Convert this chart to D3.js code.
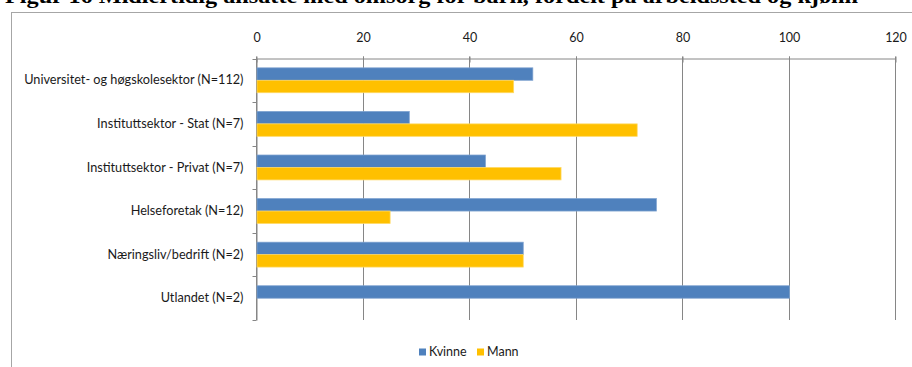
<!DOCTYPE html>
<html>
<head>
<meta charset="utf-8">
<script src="https://cdn.jsdelivr.net/npm/d3@7"></script>
<style>
  html, body { margin: 0; padding: 0; background: #fff; }
  svg { display: block; }
</style>
</head>
<body>
<svg id="chart" width="912" height="367"></svg>
<script>
// Data: share (%) of temporary employees with children, by workplace and gender
const categories = [
  "Universitet- og høgskolesektor (N=112)",
  "Instituttsektor - Stat (N=7)",
  "Instituttsektor - Privat (N=7)",
  "Helseforetak (N=12)",
  "Næringsliv/bedrift (N=2)",
  "Utlandet (N=2)"
];
const seriesNames = ["Kvinne", "Mann"];
const kvinne = [51.8, 28.6, 42.9, 75, 50, 100];
const mann   = [48.2, 71.4, 57.1, 25, 50, 0];
const tickValues = [0, 20, 40, 60, 80, 100, 120];
const title = "Figur 16 Midlertidig ansatte med omsorg for barn, fordelt på arbeidssted og kjønn";

const colors = { Kvinne: "#4F81BD", Mann: "#FFC000" };
const strokes = { Kvinne: "#7EA2D0", Mann: "#FFD966" };
const series = [kvinne, mann];

const svg = d3.select("#chart");
const font = "Lato, 'Liberation Sans', sans-serif";

// Title (page heading above the chart frame)
svg.append("text")
  .attr("x", 5).attr("y", 3)
  .attr("font-family", "'Liberation Serif', 'Times New Roman', serif")
  .attr("font-weight", "bold")
  .attr("font-size", 20)
  .attr("textLength", 853)
  .attr("lengthAdjust", "spacingAndGlyphs")
  .attr("fill", "#000")
  .text(title);

// Chart area frame
svg.append("rect")
  .attr("x", 11.5).attr("y", 12.5)
  .attr("width", 1000).attr("height", 400)
  .attr("fill", "#fff")
  .attr("stroke", "#A6A6A6")
  .attr("stroke-width", 1);

const plot = { left: 256, right: 895, top: 58.5, bottom: 320 };

const x = d3.scaleLinear().domain([0, 120]).range([plot.left, plot.right]);
const y = d3.scaleBand().domain(categories).range([plot.top, plot.bottom]).paddingInner(0).paddingOuter(0);
const groupW = y.bandwidth() / 1.75;           // 75% gap between groups
const y1 = d3.scaleBand().domain(seriesNames).range([0, groupW]);

const gridColor = "#868686";

// Vertical gridlines
svg.append("g")
  .selectAll("line")
  .data(tickValues)
  .join("line")
  .attr("x1", d => Math.round(x(d)) + 0.5)
  .attr("x2", d => Math.round(x(d)) + 0.5)
  .attr("y1", plot.top - 2)
  .attr("y2", plot.bottom)
  .attr("stroke", gridColor)
  .attr("stroke-width", 1);

// Top value axis
const xAxis = svg.append("g")
  .attr("transform", `translate(0.5,${plot.top})`)
  .call(d3.axisTop(x).tickValues(tickValues).tickSizeInner(2).tickSizeOuter(0).tickPadding(15));
xAxis.select(".domain").attr("stroke", gridColor);
xAxis.selectAll(".tick line").attr("stroke", gridColor).attr("y2", 4).attr("y1", -2);
xAxis.selectAll(".tick text")
  .attr("font-family", font).attr("font-size", 12.5).attr("fill", "#1a1a1a");

// Category axis
const yAxis = svg.append("g")
  .attr("transform", `translate(${plot.left + 0.5},0)`)
  .call(d3.axisLeft(y).tickSize(0).tickPadding(13));
yAxis.select(".domain").attr("stroke", gridColor);
yAxis.selectAll(".tick text")
  .attr("font-family", font).attr("font-size", 12.7).attr("fill", "#1a1a1a");

// Category boundary ticks
svg.append("g")
  .selectAll("line")
  .data(d3.range(categories.length + 1))
  .join("line")
  .attr("x1", plot.left - 3.5).attr("x2", plot.left + 0.5)
  .attr("y1", i => Math.round(plot.top + i * y.bandwidth()) + 0.5)
  .attr("y2", i => Math.round(plot.top + i * y.bandwidth()) + 0.5)
  .attr("stroke", gridColor);

// Bars
const groups = svg.append("g")
  .selectAll("g")
  .data(categories)
  .join("g")
  .attr("transform", d => `translate(0,${y(d) + (y.bandwidth() - groupW) / 2})`);

groups.selectAll("rect")
  .data((d, i) => seriesNames.map((s, j) => ({ s, v: series[j][i] })))
  .join("rect")
  .filter(d => d.v > 0)
  .attr("x", x(0) + 1)
  .attr("y", d => y1(d.s))
  .attr("width", d => x(d.v) - x(0))
  .attr("height", y1.bandwidth())
  .attr("fill", d => colors[d.s])
  .attr("stroke", d => strokes[d.s])
  .attr("stroke-width", 0.75);

// Legend
const legend = svg.append("g").attr("transform", "translate(419,352)");
const legendPos = [0, 58];
seriesNames.forEach((s, i) => {
  const g = legend.append("g").attr("transform", `translate(${legendPos[i]},0)`);
  g.append("rect").attr("x", 0).attr("y", -3.5).attr("width", 7).attr("height", 7).attr("fill", colors[s]);
  g.append("text").attr("x", 10).attr("y", 0).attr("dy", "0.35em")
    .attr("font-family", font).attr("font-size", 12.5).attr("fill", "#1a1a1a").text(s);
});
</script>
</body>
</html>
